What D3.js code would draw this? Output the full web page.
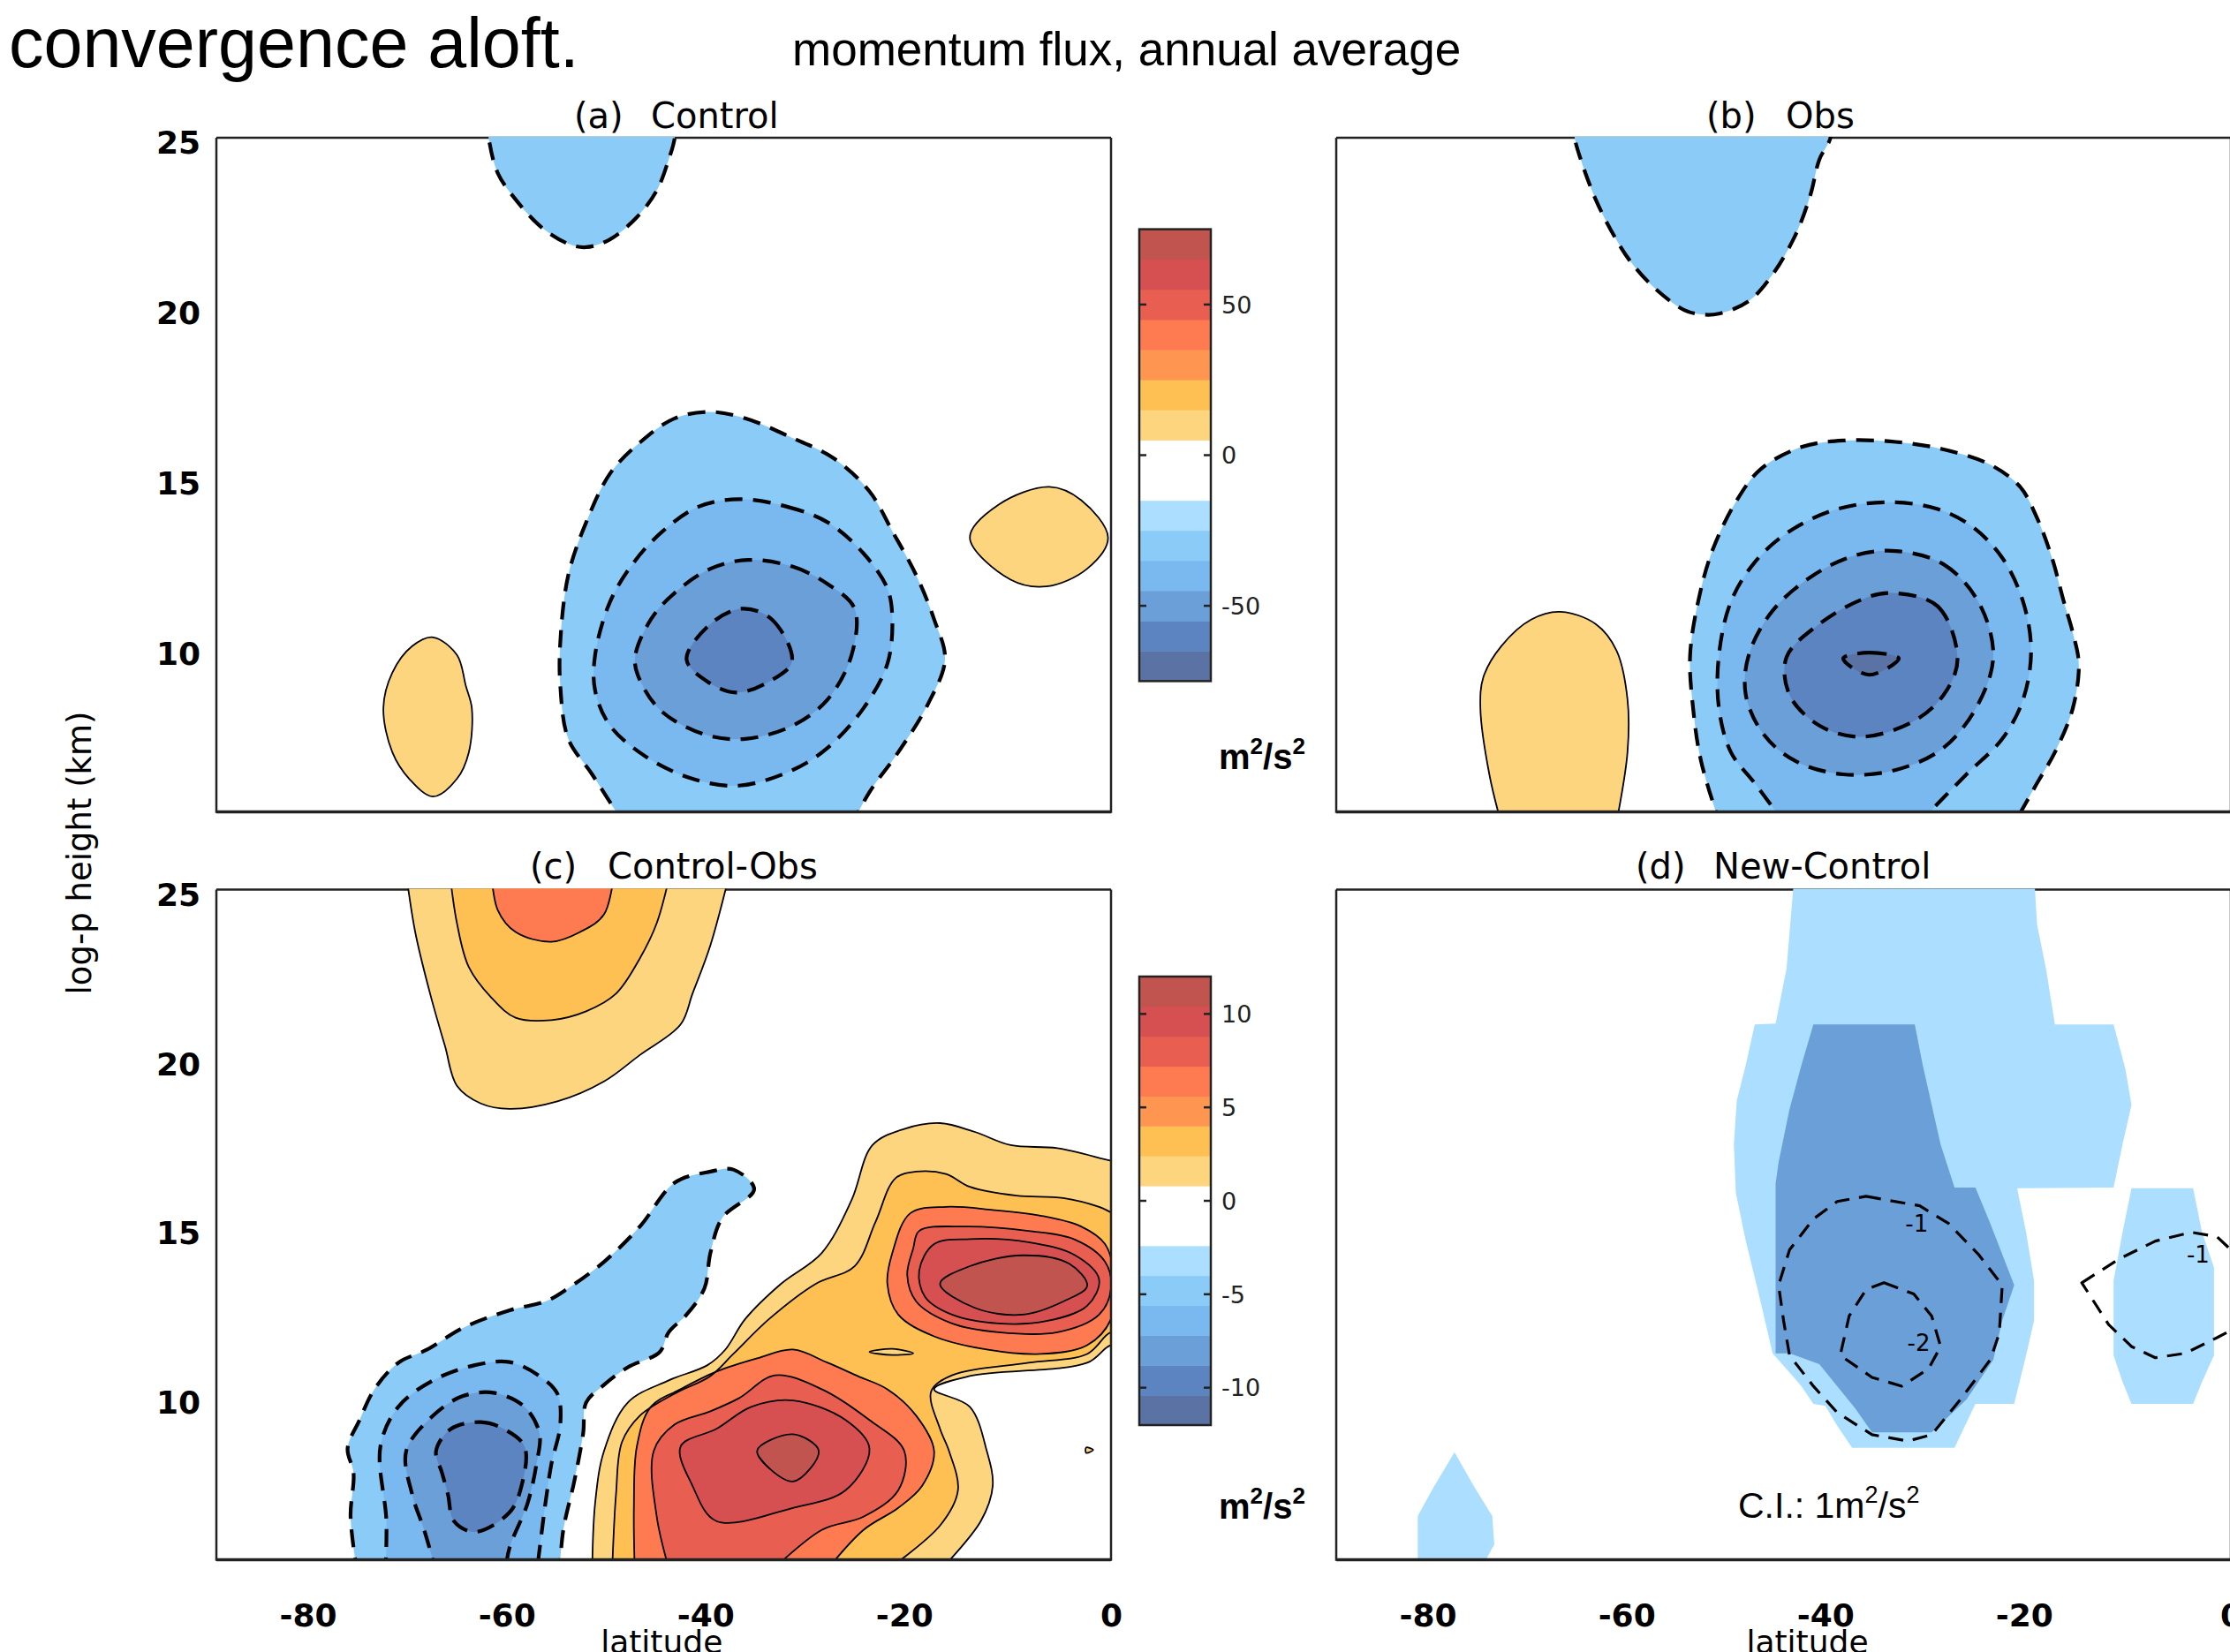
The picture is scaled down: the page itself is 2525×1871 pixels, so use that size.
<!DOCTYPE html>
<html>
<head>
<meta charset="utf-8">
<title>momentum flux, annual average</title>
<script src="https://cdn.jsdelivr.net/npm/d3@7"></script>
<style>
  body { margin: 0; background: #fff; }
  svg { display: block; }
  .grads { font-family: "DejaVu Sans", sans-serif; }
  .head { font-family: "Liberation Sans", Arial, sans-serif; }
</style>
</head>
<body>
<script>
var W = 2525, H = 1871;

// axes
var latTicks = [-80, -60, -40, -20, 0];
var hgtTicks = [10, 15, 20, 25];
var latDomain = [-90, 0];
var hgtDomain = [5.35, 25.12];

// colour bars (band edges bottom -> top)
var fluxEdges = [-75, -65, -55, -45, -35, -25, -15, -5, 5, 15, 25, 35, 45, 55, 65, 75];
var diffEdges = [-12, -10.4, -8.8, -7.2, -5.6, -4, -2.4, -0.8, 0.8, 2.4, 4, 5.6, 7.2, 8.8, 10.4, 12];
var fluxTicks = [-50, 0, 50];
var diffTicks = [-10, -5, 0, 5, 10];
var bandColors = ["#5a72a4", "#5b84c1", "#6a9fd8", "#7ab9f0", "#8bcbf8", "#acdfff", "#ffffff", "#ffffff",
                  "#fed57f", "#febf53", "#fe9551", "#fe7b52", "#e85f52", "#d65051", "#c1544f"];

// contours: value of the enclosed band, [latitude, km] points
var controlC = [
  {v: -30, pts: [[-62.8,25.8],[-62.6,25.1],[-61.7,24.09],[-59.9,23.31],[-57.2,22.47],[-54.6,22.01],[-52.8,21.91],[-50.4,22.14],[-47.7,22.79],[-45.7,23.57],[-44.5,24.48],[-43.9,25.1],[-43.8,25.8]]},
  {v: -30, pts: [[-48.8,4.9],[-52.2,6.45],[-54.6,7.49],[-55.4,9.04],[-55.4,10.34],[-54.6,12.29],[-52.8,13.84],[-50.4,15.27],[-47.4,16.18],[-43.9,16.89],[-40.3,17.08],[-36.8,16.89],[-32.0,16.31],[-27.9,15.72],[-24.3,14.75],[-22.0,13.58],[-19.6,12.29],[-17.8,11.0],[-16.7,9.82],[-18.4,8.52],[-21.4,7.1],[-24.3,5.93],[-26.2,4.9]]},
  {v: -40, pts: [[-37.4,14.52],[-32.6,14.30],[-28.5,13.84],[-24.9,12.93],[-22.5,11.90],[-22.0,10.99],[-22.5,9.69],[-24.9,8.39],[-28.5,7.23],[-32.0,6.58],[-37.4,6.12],[-42.1,6.32],[-46.8,6.97],[-50.4,7.88],[-51.9,8.91],[-51.9,9.95],[-50.4,11.51],[-48.0,12.67],[-45.1,13.58],[-41.5,14.30]]},
  {v: -50, pts: [[-36.5,12.74],[-32.0,12.54],[-28.5,12.03],[-25.8,11.31],[-26.1,9.95],[-28.5,8.65],[-32.0,7.88],[-36.8,7.49],[-40.9,7.62],[-45.1,8.27],[-47.1,9.04],[-47.9,9.82],[-46.3,10.99],[-43.9,11.77],[-40.3,12.48]]},
  {v: -60, pts: [[-37.1,11.31],[-34.1,10.99],[-32.1,9.76],[-34.4,9.17],[-37.7,8.85],[-40.6,9.17],[-42.7,9.82],[-40.3,10.86]]},
  {v: 10, pts: [[-68.2,10.47],[-65.8,9.95],[-64.9,9.04],[-64.3,8.39],[-64.6,7.10],[-65.8,6.32],[-68.2,5.80],[-70.6,6.32],[-72.3,7.10],[-73.2,8.39],[-72.3,9.43],[-70.3,10.21]]},
  {v: 10, pts: [[-6.2,14.88],[-3.0,14.49],[-0.3,13.39],[-2.4,12.48],[-6.5,11.96],[-10.1,12.16],[-14.2,13.39],[-11.3,14.36]]}
];

var obsC = [
  {v: -30, pts: [[-66.2,25.8],[-66.0,25.1],[-65.4,24.48],[-63.9,23.31],[-62.1,22.27],[-60.4,21.49],[-58.0,20.72],[-55.0,20.07],[-53.3,19.94],[-51.5,19.96],[-48.5,20.33],[-46.1,21.11],[-43.8,22.27],[-42.3,23.44],[-41.4,24.48],[-40.3,25.1],[-40.1,25.8]]},
  {v: -30, pts: [[-51.3,4.9],[-53.3,6.84],[-54.1,8.39],[-54.4,9.95],[-53.5,11.64],[-52.1,13.06],[-49.7,14.49],[-47.3,15.40],[-43.2,16.05],[-39.0,16.24],[-33.7,16.20],[-28.9,15.98],[-24.2,15.53],[-21.2,14.88],[-19.5,13.97],[-18.0,12.80],[-16.8,11.51],[-15.9,10.60],[-15.3,9.69],[-15.9,8.39],[-17.7,7.10],[-19.5,6.19],[-22.0,4.9]]},
  {v: -40, pts: [[-44.6,4.9],[-47.9,6.19],[-50.3,7.10],[-51.5,8.39],[-51.5,9.95],[-50.3,11.51],[-47.9,12.67],[-44.4,13.58],[-39.6,14.23],[-34.3,14.43],[-29.5,14.23],[-26.0,13.71],[-23.0,12.80],[-20.9,11.51],[-20.1,10.08],[-20.9,8.65],[-23.0,7.49],[-26.6,6.45],[-31.8,4.9]]},
  {v: -50, pts: [[-33.7,13.0],[-28.9,12.61],[-25.4,11.51],[-23.9,9.95],[-25.4,8.52],[-28.9,7.23],[-33.7,6.58],[-39.0,6.45],[-43.8,6.84],[-47.0,7.62],[-48.8,8.78],[-48.5,9.95],[-46.1,11.25],[-42.0,12.29],[-37.8,12.87]]},
  {v: -60, pts: [[-34.3,11.77],[-29.5,11.38],[-27.5,9.82],[-28.9,8.78],[-31.9,8.01],[-37.2,7.55],[-41.4,7.88],[-44.4,8.78],[-44.7,9.89],[-41.4,10.86],[-37.2,11.57]]},
  {v: -70, pts: [[-39.0,9.85],[-36.4,10.02],[-33.4,9.85],[-36.4,9.37]]},
  {v: 10, pts: [[-73.3,4.9],[-74.6,6.45],[-75.5,8.39],[-75.2,9.30],[-73.4,10.21],[-70.4,10.99],[-67.5,11.22],[-63.9,10.86],[-61.8,10.08],[-60.7,8.65],[-60.7,7.10],[-61.9,4.9]]}
];

var diffC = [
  {v: 1.6, pts: [[-71.0,25.8],[-70.0,23.87],[-68.5,22.05],[-67.0,20.50],[-65.8,19.33],[-63.4,18.81],[-60.5,18.65],[-55.7,18.87],[-51.0,19.46],[-47.4,20.24],[-43.3,21.14],[-42.1,22.05],[-40.3,23.48],[-38.2,25.8]]},
  {v: 3.2, pts: [[-66.6,25.8],[-65.8,24.13],[-64.6,22.83],[-62.3,21.92],[-59.9,21.34],[-56.3,21.27],[-52.8,21.53],[-49.8,22.05],[-47.4,23.09],[-45.7,24.13],[-44.2,25.8]]},
  {v: 6.4, pts: [[-62.4,25.8],[-61.7,24.52],[-59.9,23.87],[-56.3,23.58],[-53.4,23.87],[-51.0,24.39],[-49.9,25.8]]},
  {v: 1.6, pts: [[-52.2,4.9],[-51.9,7.01],[-51.0,8.56],[-48.6,9.99],[-44.5,10.64],[-40.6,11.09],[-38.8,11.55],[-36.8,12.45],[-33.2,13.49],[-29.1,14.40],[-26.1,15.96],[-24.0,17.58],[-20.8,18.06],[-17.2,18.23],[-13.7,17.97],[-10.1,17.58],[-5.4,17.49],[0,17.12],[2,17.0],[2,11.6],[0,11.68],[-2.4,11.16],[-14.2,10.77],[-17.8,10.38],[-14.2,9.86],[-12.5,8.56],[-11.9,7.53],[-13.1,6.49],[-17.6,4.9]]},
  {v: 3.2, pts: [[-50.2,4.9],[-49.8,7.27],[-49.2,8.82],[-47.4,9.60],[-43.9,10.25],[-40.3,10.77],[-38.0,11.42],[-34.4,12.45],[-29.7,13.49],[-25.8,14.01],[-23.7,15.31],[-21.7,16.60],[-19.6,16.80],[-16.6,16.73],[-14.2,16.35],[-9.5,16.09],[-4.8,16.02],[-1.2,15.76],[0.3,15.57],[2,15.5],[2,12.0],[0,12.06],[-2.4,11.42],[-8.3,11.16],[-16.0,10.79],[-18.1,10.31],[-17.2,9.21],[-16.3,8.56],[-15.4,7.40],[-17.2,6.36],[-23.2,4.9]]},
  {v: 1.6, pts: [[-24.3,11.48],[-22.0,11.57],[-19.9,11.44],[-22.0,11.39]]},
  {v: 6.4, pts: [[-47.9,4.9],[-48.0,6.88],[-47.7,8.69],[-46.3,9.86],[-43.3,10.38],[-39.7,10.90],[-35.6,11.29],[-32.0,11.55],[-28.5,11.16],[-25.5,10.77],[-22.5,10.38],[-19.6,9.60],[-17.8,8.56],[-19.0,7.53],[-21.4,6.88],[-24.9,6.23],[-29.0,4.9]]},
  {v: 8.0, pts: [[-44.3,4.9],[-45.7,6.62],[-46.0,8.56],[-43.9,9.34],[-40.3,9.73],[-37.4,10.12],[-33.8,10.79],[-29.1,10.38],[-24.3,9.47],[-20.8,8.56],[-21.4,7.40],[-24.9,6.62],[-29.1,6.23],[-34.6,4.9]]},
  {v: 9.6, pts: [[-43.3,8.69],[-42.1,7.53],[-39.7,6.49],[-32.0,6.88],[-26.7,7.40],[-24.3,8.63],[-26.7,9.47],[-32.0,10.05],[-36.2,9.86],[-39.7,9.21]]},
  {v: 11.2, pts: [[-32.0,9.05],[-29.4,8.56],[-32.0,7.66],[-35.6,8.56]]},
  {v: 6.4, pts: [[-20.2,15.57],[-16.6,15.76],[-11.9,15.67],[-7.1,15.50],[-3.0,15.18],[-0.6,14.66],[0.3,13.75],[0,12.45],[-2.4,11.68],[-7.1,11.42],[-12.5,11.55],[-17.8,11.94],[-21.4,12.58],[-22.5,13.49],[-22.0,14.40]]},
  {v: 8.0, pts: [[-19.3,15.05],[-14.8,15.18],[-8.3,15.05],[-3.6,14.79],[-0.6,14.14],[0,13.36],[-1.2,12.58],[-5.4,12.06],[-11.3,12.06],[-16.0,12.32],[-19.6,12.97],[-20.5,13.75],[-19.9,14.53]]},
  {v: 9.6, pts: [[-17.8,14.66],[-14.2,14.81],[-8.3,14.72],[-3.6,14.33],[-1.2,13.62],[-2.4,12.84],[-6.5,12.39],[-11.3,12.32],[-16.0,12.58],[-18.7,13.10],[-19.3,13.88]]},
  {v: 11.2, pts: [[-17.2,13.49],[-14.2,14.01],[-8.9,14.33],[-4.2,14.08],[-2.4,13.43],[-4.8,12.97],[-8.9,12.58],[-13.7,12.78]]},
  {v: 1.6, pts: [[-2.5,8.66],[-1.8,8.59],[-2.5,8.50]]},
  {v: -4.8, pts: [[-75.8,4.9],[-76.5,6.62],[-76.2,7.91],[-76.8,8.63],[-75.6,9.47],[-74.1,10.38],[-71.7,11.16],[-68.8,11.55],[-65.2,12.19],[-60.5,12.71],[-56.9,12.97],[-54.6,13.36],[-51.0,14.14],[-47.4,15.18],[-43.9,16.47],[-40.3,16.80],[-38.0,16.86],[-35.9,16.28],[-39.1,15.44],[-40.3,14.40],[-40.9,13.36],[-42.7,12.58],[-44.5,12.06],[-45.4,11.48],[-48.6,11.03],[-51.0,10.51],[-52.8,9.99],[-53.1,9.08],[-54.0,7.66],[-55.1,6.23],[-55.5,4.9]]},
  {v: -6.4, pts: [[-73.0,4.9],[-72.9,6.5],[-73.5,8.69],[-71.7,9.86],[-68.2,10.64],[-64.0,11.09],[-60.5,11.18],[-57.5,10.77],[-55.7,10.25],[-55.4,9.34],[-56.3,8.17],[-56.9,7.01],[-57.3,6.10],[-57.8,4.9]]},
  {v: -8.0, pts: [[-67.8,4.9],[-69.1,6.23],[-70.3,7.27],[-70.9,8.56],[-68.2,9.60],[-65.2,10.18],[-62.0,10.27],[-59.0,9.86],[-57.5,9.08],[-57.8,8.17],[-58.7,7.01],[-60.5,5.71],[-61.0,4.9]]},
  {v: -9.6, pts: [[-66.4,9.21],[-63.4,9.41],[-61.1,9.21],[-59.0,8.69],[-59.3,7.53],[-60.5,6.75],[-64.0,6.17],[-66.1,6.49],[-66.7,7.27],[-67.3,7.91],[-67.9,8.56]]}
];

// (d) shading (coarse grid) and its labelled contours
var newShade = [
  {v: -3.2, pts: [[-43.9,25.6],[-44.7,22.79],[-45.8,21.17],[-47.9,21.14],[-48.8,19.94],[-49.7,18.90],[-50.0,17.60],[-49.8,16.18],[-48.8,14.75],[-47.6,13.32],[-46.1,11.44],[-43.2,10.47],[-42.0,9.95],[-40.8,9.89],[-39.6,9.30],[-38.1,8.65],[-27.8,8.65],[-25.7,9.95],[-21.8,9.95],[-20.6,11.38],[-19.8,12.41],[-19.8,13.58],[-20.6,15.01],[-21.5,16.31],[-11.8,16.33],[-10.9,17.60],[-10.0,18.77],[-10.6,19.81],[-11.8,21.14],[-17.7,21.14],[-18.6,22.79],[-19.5,24.09],[-19.8,25.6]]},
  {v: -3.2, pts: [[-10.0,16.31],[-3.8,16.31],[-2.9,15.01],[-1.7,13.97],[-1.7,11.38],[-2.9,10.60],[-3.8,9.95],[-10.0,9.95],[-10.9,10.60],[-11.8,11.38],[-11.8,13.58],[-10.9,15.01]]},
  {v: -3.2, pts: [[-81.8,4.9],[-81.8,6.64],[-80.2,7.49],[-78.1,8.52],[-76.1,7.49],[-74.3,6.64],[-74.1,5.80],[-74.9,5.37],[-75.2,4.9]]},
  {v: -8.0, pts: [[-42.0,21.14],[-31.8,21.14],[-31.0,19.94],[-29.2,17.60],[-27.8,16.33],[-25.7,16.33],[-24.2,15.27],[-21.8,13.45],[-23.0,12.41],[-23.9,11.25],[-26.6,10.08],[-30.1,9.11],[-36.1,9.11],[-37.8,9.82],[-41.4,11.12],[-44.4,11.44],[-45.8,11.44],[-45.8,16.44],[-45.5,17.08],[-44.4,18.64],[-43.2,19.94]]}
];
var newLines = [
  {v: -1, pts: [[-36.7,16.07],[-31.3,15.79],[-28.4,15.27],[-25.4,14.36],[-23.0,13.45],[-23.3,12.03],[-24.2,11.25],[-27.2,10.08],[-30.1,9.04],[-32.5,8.85],[-36.1,9.04],[-39.6,9.69],[-42.0,10.47],[-44.4,11.38],[-45.0,12.41],[-45.5,13.45],[-44.4,14.49],[-42.0,15.40],[-39.6,15.92]]},
  {v: -2, pts: [[-34.9,13.52],[-31.9,13.19],[-30.1,12.54],[-29.2,11.64],[-30.4,10.99],[-33.1,10.47],[-36.1,10.73],[-39.3,11.38],[-38.4,12.54],[-36.7,13.32]]},
  {v: -1, pts: [[-15.0,13.52],[-11.2,14.23],[-7.6,14.75],[-4.0,15.01],[-1.4,14.88],[1.9,13.97],[1.9,12.41],[-1.4,11.90],[-4.6,11.44],[-7.6,11.31],[-10.0,11.64],[-12.3,12.29]]}
];
var newLabels = [
  {lat: -31.6, h: 15.25, t: "-1"},
  {lat: -31.4, h: 11.75, t: "-2"},
  {lat: -3.3, h: 14.35, t: "-1"}
];

var panels = [
  {tag: "(a)", name: "Control", shade: controlC, lines: controlC, edges: fluxEdges,
   x0: 245, y0: 156, y1: 919.5, xlab: null, ylab: true, tagX: 650, nameX: 737, titleY: 145},
  {tag: "(b)", name: "Obs", shade: obsC, lines: obsC, edges: fluxEdges,
   x0: 1513, y0: 156, y1: 919.5, xlab: null, ylab: false, tagX: 1932, nameX: 2022, titleY: 145},
  {tag: "(c)", name: "Control-Obs", shade: diffC, lines: diffC, edges: diffEdges,
   x0: 245, y0: 1007.5, y1: 1766.5, xlab: -45.2, ylab: true, tagX: 600, nameX: 688, titleY: 995},
  {tag: "(d)", name: "New-Control", shade: newShade, lines: newLines, labels: newLabels, edges: diffEdges,
   x0: 1513, y0: 1007.5, y1: 1766.5, xlab: -42.6, ylab: false, tagX: 1852, nameX: 1940, titleY: 995, linear: true}
];
var panelW = 1013;

var svg = d3.select("body").append("svg")
  .attr("width", W).attr("height", H)
  .attr("viewBox", "0 0 " + W + " " + H);

// header
svg.append("text").attr("class", "head")
  .attr("x", 10).attr("y", 76).attr("font-size", 79)
  .text("convergence aloft.");
svg.append("text").attr("class", "head")
  .attr("x", 897).attr("y", 74).attr("font-size", 53)
  .text("momentum flux, annual average");

function isOut(d) {
  return d[0] < latDomain[0] || d[0] > latDomain[1] || d[1] < hgtDomain[0] || d[1] > hgtDomain[1];
}

function contourPath(pts, x, y, linear) {
  var open = isOut(pts[0]) && isOut(pts[pts.length - 1]);
  var curve;
  if (linear) curve = open ? d3.curveLinear : d3.curveLinearClosed;
  else curve = open ? d3.curveCatmullRom : d3.curveCatmullRomClosed;
  return d3.line()
    .x(function(d) { return x(d[0]); })
    .y(function(d) { return y(d[1]); })
    .curve(curve)(pts);
}

panels.forEach(function(p, i) {
  var x = d3.scaleLinear().domain(latDomain).range([p.x0, p.x0 + panelW]);
  var y = d3.scaleLinear().domain(hgtDomain).range([p.y1, p.y0]);
  var color = d3.scaleThreshold().domain(p.edges.slice(1, -1)).range(bandColors);
  var g = svg.append("g");

  // top edge goes under the shading
  g.append("line")
    .attr("x1", p.x0).attr("x2", p.x0 + panelW)
    .attr("y1", p.y0).attr("y2", p.y0)
    .attr("stroke", "#222").attr("stroke-width", 2.5);

  g.append("clipPath").attr("id", "clip" + i)
    .append("rect")
    .attr("x", p.x0).attr("y", p.y0 - 1)
    .attr("width", panelW).attr("height", p.y1 - p.y0 + 1);

  var plot = g.append("g").attr("clip-path", "url(#clip" + i + ")");

  plot.selectAll("path.fill")
    .data(p.shade)
    .join("path")
    .attr("class", "fill")
    .attr("d", function(d) { return contourPath(d.pts, x, y, p.linear); })
    .attr("fill", function(d) { return color(d.v); })
    .attr("stroke", "none");

  plot.selectAll("path.cline")
    .data(p.lines)
    .join("path")
    .attr("class", "cline")
    .attr("d", function(d) { return contourPath(d.pts, x, y, p.linear); })
    .attr("fill", "none")
    .attr("stroke", "#000")
    .attr("stroke-linejoin", "round")
    .attr("stroke-width", function(d) { return d.v < 0 ? (p.linear ? 3.2 : 4.2) : 1.8; })
    .attr("stroke-dasharray", function(d) { return d.v < 0 ? (p.linear ? "17,11" : "20,12") : null; });

  if (p.labels) {
    plot.selectAll("text.clab")
      .data(p.labels)
      .join("text")
      .attr("class", "clab grads")
      .attr("x", function(d) { return x(d.lat); })
      .attr("y", function(d) { return y(d.h); })
      .attr("font-size", 26)
      .attr("text-anchor", "middle")
      .attr("dominant-baseline", "central")
      .text(function(d) { return d.t; });
  }

  // left, right, bottom edges
  g.append("path")
    .attr("d", "M" + p.x0 + "," + p.y0 + "V" + p.y1 + "H" + (p.x0 + panelW) + "V" + p.y0)
    .attr("fill", "none").attr("stroke", "#222").attr("stroke-width", 2.5);
  g.append("line")
    .attr("x1", p.x0).attr("x2", p.x0 + panelW)
    .attr("y1", p.y1).attr("y2", p.y1)
    .attr("stroke", "#222").attr("stroke-width", 3.5);

  // panel title
  g.append("text").attr("class", "grads")
    .attr("x", p.tagX).attr("y", p.titleY).attr("font-size", 40)
    .text(p.tag);
  g.append("text").attr("class", "grads")
    .attr("x", p.nameX).attr("y", p.titleY).attr("font-size", 40)
    .text(p.name);

  if (p.xlab !== null) {
    var xa = g.append("g")
      .attr("class", "grads")
      .attr("transform", "translate(0," + p.y1 + ")")
      .call(d3.axisBottom(x).tickValues(latTicks).tickSize(0)
        .tickFormat(function(d) { return d < 0 ? "-" + Math.abs(d) : String(d); }));
    xa.select(".domain").remove();
    xa.selectAll("text")
      .attr("font-family", "DejaVu Sans, sans-serif")
      .attr("font-size", 36)
      .attr("font-weight", "bold")
      .attr("fill", "#000")
      .attr("y", 75).attr("dy", null)
      .attr("dx", function(d) { return d < 0 ? -9 : 0; });
    g.append("text").attr("class", "grads")
      .attr("x", x(p.xlab)).attr("y", 1872)
      .attr("font-size", 36).attr("text-anchor", "middle")
      .text("latitude");
  }
  if (p.ylab) {
    var ya = g.append("g")
      .attr("class", "grads")
      .attr("transform", "translate(" + p.x0 + ",0)")
      .call(d3.axisLeft(y).tickValues(hgtTicks).tickSize(0));
    ya.select(".domain").remove();
    ya.selectAll("text")
      .attr("font-family", "DejaVu Sans, sans-serif")
      .attr("font-size", 36)
      .attr("font-weight", "bold")
      .attr("fill", "#000")
      .attr("x", -18).attr("dy", "0.36em");
  }
});

// y title
svg.append("text").attr("class", "grads")
  .attr("transform", "translate(103,966) rotate(-90)")
  .attr("font-size", 37).attr("text-anchor", "middle")
  .text("log-p height (km)");

// colour bars
function colorBar(top, bottom, edges, ticks, unitY) {
  var s = d3.scaleLinear().domain([edges[0], edges[edges.length - 1]]).range([bottom, top]);
  var cb = svg.append("g");
  var bx = 1290, bw = 81;
  cb.selectAll("rect.band")
    .data(d3.pairs(edges))
    .join("rect")
    .attr("class", "band")
    .attr("x", bx).attr("width", bw)
    .attr("y", function(d) { return s(d[1]); })
    .attr("height", function(d) { return s(d[0]) - s(d[1]) + 0.5; })
    .attr("fill", function(d, i) { return bandColors[i]; });
  cb.append("rect")
    .attr("x", bx).attr("y", top).attr("width", bw).attr("height", bottom - top)
    .attr("fill", "none").attr("stroke", "#222").attr("stroke-width", 2.5);
  ticks.forEach(function(t) {
    cb.append("line").attr("x1", bx).attr("x2", bx + 8).attr("y1", s(t)).attr("y2", s(t))
      .attr("stroke", "#222").attr("stroke-width", 2.5);
    cb.append("line").attr("x1", bx + bw - 8).attr("x2", bx + bw).attr("y1", s(t)).attr("y2", s(t))
      .attr("stroke", "#222").attr("stroke-width", 2.5);
    cb.append("text").attr("class", "grads")
      .attr("x", 1383).attr("y", s(t)).attr("dy", "0.36em")
      .attr("font-size", 27).attr("fill", "#222")
      .text(t < 0 ? "-" + Math.abs(t) : String(t));
  });
  var u = cb.append("text").attr("class", "head")
    .attr("x", 1380).attr("y", unitY)
    .attr("font-size", 40).attr("font-weight", "bold");
  u.append("tspan").text("m");
  u.append("tspan").attr("font-size", 26).attr("dy", -17).text("2");
  u.append("tspan").attr("dy", 17).text("/s");
  u.append("tspan").attr("font-size", 26).attr("dy", -17).text("2");
}
colorBar(259.6, 771.4, fluxEdges, fluxTicks, 871);
colorBar(1106, 1614, diffEdges, diffTicks, 1720);

// contour interval note in (d)
var ci = svg.append("text").attr("class", "head")
  .attr("x", 1968).attr("y", 1719).attr("font-size", 41);
ci.append("tspan").text("C.I.: 1m");
ci.append("tspan").attr("font-size", 27).attr("dy", -17).text("2");
ci.append("tspan").attr("dy", 17).text("/s");
ci.append("tspan").attr("font-size", 27).attr("dy", -17).text("2");
</script>
</body>
</html>
